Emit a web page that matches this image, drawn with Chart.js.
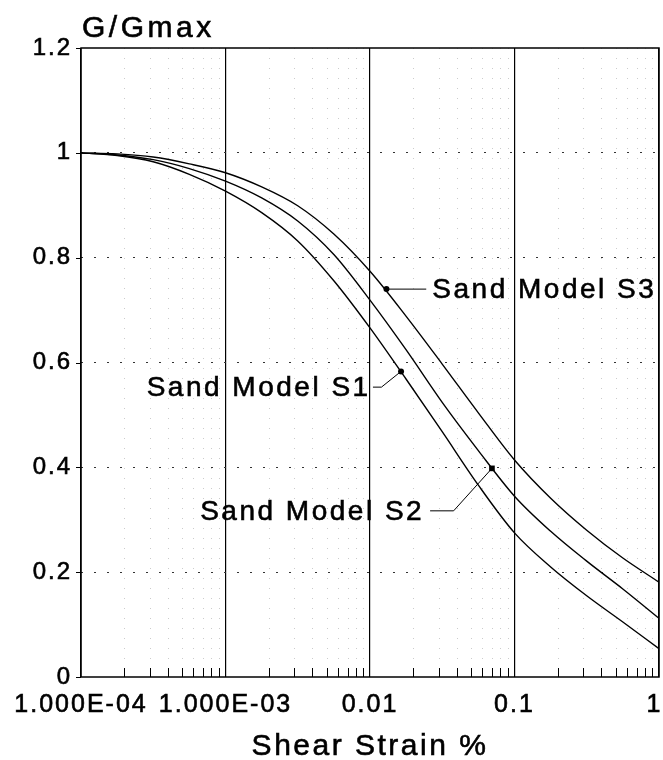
<!DOCTYPE html>
<html>
<head>
<meta charset="utf-8">
<script src="https://cdn.jsdelivr.net/npm/chart.js@4.4.0/dist/chart.umd.min.js"></script>
<style>
    html, body { margin: 0; padding: 0; background: #fff; }
</style>
</head>
<body>
<canvas id="chart" width="663" height="760"></canvas>
<script>
// shear strain (%) sample points, one every quarter decade
const strain = [0.0001, 0.000178, 0.000316, 0.000562, 0.001, 0.00178, 0.00316, 0.00562,
                0.01, 0.0178, 0.0316, 0.0562, 0.1, 0.178, 0.316, 0.562, 1];

// G/Gmax
const sandS1 = [1.000, 0.995, 0.983, 0.959, 0.927, 0.886, 0.832, 0.756,
                0.666, 0.568, 0.468, 0.366, 0.275, 0.210, 0.155, 0.105, 0.054];
const sandS2 = [1.000, 0.996, 0.987, 0.970, 0.946, 0.914, 0.870, 0.806,
                0.719, 0.624, 0.524, 0.432, 0.345, 0.278, 0.221, 0.168, 0.112];
const sandS3 = [1.000, 0.998, 0.992, 0.979, 0.962, 0.935, 0.899, 0.845,
                0.774, 0.688, 0.597, 0.504, 0.414, 0.341, 0.280, 0.227, 0.181];

// axis ticks
const xTickValues = [0.0001, 0.001, 0.01, 0.1, 1];
const xTickLabels = ["1.000E-04", "1.000E-03", "0.01", "0.1", "1"];
const yTickLabels = ["0", "0.2", "0.4", "0.6", "0.8", "1", "1.2"];

// callouts (data coordinates): dot on curve, knee of leader, start of leader, text anchor
const calloutNames = ["Sand Model S1", "Sand Model S2", "Sand Model S3"];
const calloutDotX = [0.0164, 0.0698, 0.0130];
const calloutDotY = [0.583, 0.398, 0.740];
const calloutKneeX = [0.0120, 0.0379, 0.0245];
const calloutKneeY = [0.553, 0.317, 0.740];
const calloutLeadX = [0.01048, 0.02606, 0.0245];
const calloutTextX = [0.0101, 0.02370, 0.0270];
const calloutAlign = ["right", "right", "left"];

const FONT = '"Liberation Sans", Arial, Helvetica, sans-serif';

const curve = (label, values) => ({
    label: label,
    data: strain.map((s, i) => ({ x: s, y: values[i] })),
    borderColor: "#000",
    borderWidth: 1.4,
    pointRadius: 0,
    fill: false,
    cubicInterpolationMode: "monotone"
});

const leaders = calloutNames.map((name, i) => ({
    label: name + " leader",
    data: [
        { x: calloutLeadX[i], y: calloutKneeY[i] },
        { x: calloutKneeX[i], y: calloutKneeY[i] },
        { x: calloutDotX[i], y: calloutDotY[i] }
    ],
    borderColor: "#000",
    borderWidth: 1,
    pointRadius: 0,
    fill: false,
    tension: 0
}));

const dots = {
    label: "dots",
    type: "scatter",
    data: calloutDotX.map((x, i) => ({ x: x, y: calloutDotY[i] })),
    pointStyle: ["circle", "rect", "circle"],
    pointRadius: [3, 4, 3],
    backgroundColor: "#000",
    borderColor: "#000",
    borderWidth: 0
};

// plain text drawn a little heavier, like the plotted original
const heavyText = (ctx, text, px, py) => {
    ctx.fillText(text, px, py);
    ctx.strokeText(text, px, py);
};

// frame, minor grid, minor ticks, titles and callout texts
const plotExtras = {
    id: "plotExtras",
    beforeDraw(chart) {
        chart.ctx.letterSpacing = "2px";
    },
    beforeDatasetsDraw(chart) {
        const { ctx, chartArea: a, scales: { x, y } } = chart;
        ctx.save();
        ctx.lineWidth = 1;
        for (let d = -4; d < 0; d++) {
            for (let k = 2; k <= 9; k++) {
                const px = Math.round(x.getPixelForValue(k * Math.pow(10, d))) + 0.5;
                // faint dotted minor grid
                ctx.strokeStyle = "rgba(0,0,0,0.2)";
                ctx.setLineDash([1, 9]);
                ctx.beginPath();
                ctx.moveTo(px, a.top);
                ctx.lineTo(px, a.bottom);
                ctx.stroke();
                // minor tick marks standing on the axis
                ctx.strokeStyle = "#000";
                ctx.setLineDash([]);
                ctx.beginPath();
                ctx.moveTo(px, a.bottom);
                ctx.lineTo(px, a.bottom - 9);
                ctx.stroke();
            }
        }
        // small ticks left of the y axis
        y.ticks.forEach(t => {
            const py = Math.round(y.getPixelForValue(t.value)) + 0.5;
            ctx.beginPath();
            ctx.moveTo(a.left - 5, py);
            ctx.lineTo(a.left, py);
            ctx.stroke();
        });
        ctx.restore();
    },
    afterDraw(chart) {
        const { ctx, chartArea: a, scales: { x, y } } = chart;
        ctx.save();
        ctx.strokeStyle = "#000";
        ctx.lineWidth = 1.5;
        ctx.setLineDash([]);
        ctx.strokeRect(a.left, a.top, a.right - a.left, a.bottom - a.top);

        ctx.fillStyle = "#000";
        ctx.lineWidth = 0.6;
        ctx.textBaseline = "alphabetic";

        ctx.font = "30px " + FONT;
        ctx.letterSpacing = "3.5px";
        ctx.textAlign = "left";
        heavyText(ctx, "G/Gmax", a.left + 1, a.top - 11);

        ctx.letterSpacing = "2.5px";
        ctx.textAlign = "center";
        heavyText(ctx, "Shear Strain %", (a.left + a.right) / 2, 755);

        ctx.font = "28px " + FONT;
        ctx.letterSpacing = "2.5px";
        ctx.textBaseline = "middle";
        calloutNames.forEach((name, i) => {
            ctx.textAlign = calloutAlign[i];
            heavyText(ctx, name, x.getPixelForValue(calloutTextX[i]), y.getPixelForValue(calloutKneeY[i]) + 1);
        });
        ctx.restore();
    }
};

new Chart(document.getElementById("chart"), {
    type: "line",
    data: {
        datasets: [curve("Sand Model S1", sandS1), curve("Sand Model S2", sandS2), curve("Sand Model S3", sandS3), ...leaders, dots]
    },
    options: {
        responsive: false,
        animation: false,
        layout: { padding: { left: 0, right: 3, top: 48, bottom: 0 } },
        plugins: {
            legend: { display: false },
            tooltip: { enabled: false }
        },
        scales: {
            x: {
                type: "logarithmic",
                min: 0.0001,
                max: 1,
                afterBuildTicks: scale => {
                    scale.ticks = xTickValues.map(v => ({ value: v, major: true }));
                },
                afterFit: scale => {
                    scale.height = 83;
                    scale.paddingLeft = 0;
                    scale.paddingRight = 0;
                },
                ticks: {
                    autoSkip: false,
                    maxRotation: 0,
                    padding: 13,
                    color: "#000",
                    textStrokeColor: "#000",
                    textStrokeWidth: 0.6,
                    font: { family: FONT, size: 25 },
                    // last label sits at the canvas edge, pad it so it stays inside
                    callback: (value, index) => index === xTickLabels.length - 1 ? xTickLabels[index] + " " : xTickLabels[index]
                },
                grid: { color: "#000", lineWidth: 1.2, drawTicks: false },
                border: { display: false }
            },
            y: {
                type: "linear",
                min: 0,
                max: 1.2,
                afterFit: scale => {
                    scale.width = 81;
                    scale.paddingTop = 0;
                    scale.paddingBottom = 0;
                },
                ticks: {
                    stepSize: 0.2,
                    padding: 9,
                    color: "#000",
                    textStrokeColor: "#000",
                    textStrokeWidth: 0.6,
                    font: { family: FONT, size: 24 },
                    callback: (value, index) => yTickLabels[index]
                },
                grid: {
                    color: ctx => (ctx.tick && ctx.tick.value > 0.01 && ctx.tick.value < 1.19) ? "#333" : "rgba(0,0,0,0)",
                    lineWidth: 1,
                    drawTicks: false
                },
                border: { display: false, dash: [2, 11] }
            }
        }
    },
    plugins: [plotExtras]
});
</script>
</body>
</html>
